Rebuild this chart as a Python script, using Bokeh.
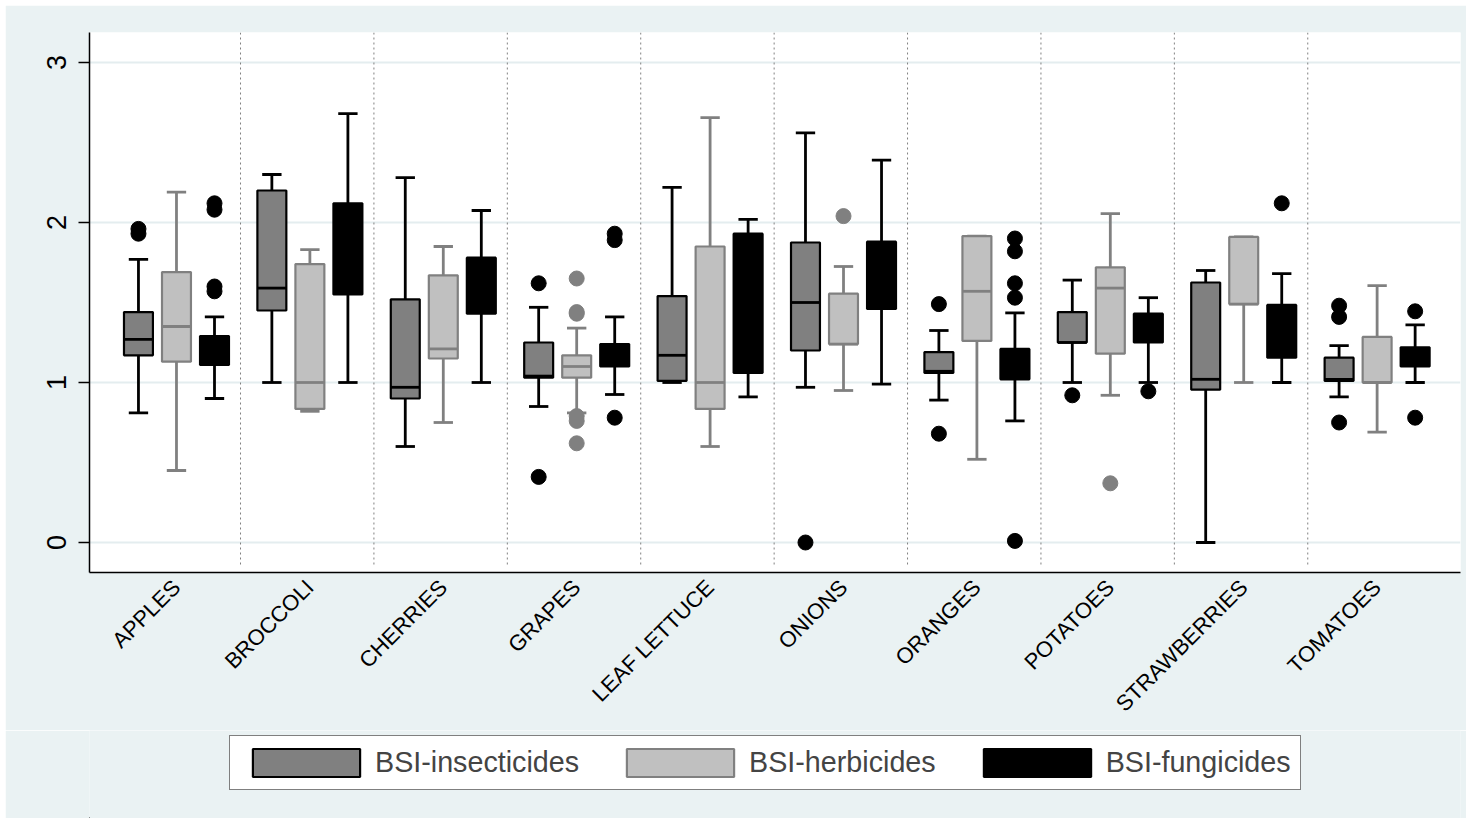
import math
from bokeh.plotting import figure
from bokeh.layouts import column
from bokeh.models import Range1d, FixedTicker, Legend, LegendItem
from bokeh.embed import file_html
from bokeh.resources import INLINE

# ---------------- data ----------------
categories = ["APPLES", "BROCCOLI", "CHERRIES", "GRAPES", "LEAF LETTUCE",
              "ONIONS", "ORANGES", "POTATOES", "STRAWBERRIES", "TOMATOES"]

ins_low  = [0.81, 1.00, 0.60, 0.85, 1.00, 0.97, 0.89, 1.00, 0.00, 0.91]
ins_q1   = [1.17, 1.45, 0.90, 1.03, 1.01, 1.20, 1.06, 1.25, 0.955, 1.01]
ins_med  = [1.27, 1.59, 0.97, 1.04, 1.17, 1.50, 1.07, 1.25, 1.02, 1.02]
ins_q3   = [1.44, 2.20, 1.52, 1.25, 1.54, 1.875, 1.19, 1.44, 1.625, 1.155]
ins_high = [1.77, 2.30, 2.28, 1.47, 2.22, 2.56, 1.325, 1.64, 1.70, 1.23]
ins_out  = [[1.96, 1.93], [], [], [1.62, 0.41], [], [0.0], [1.49, 0.68],
            [0.92], [], [1.48, 1.41, 0.75]]

herb_low  = [0.45, 0.82, 0.75, 0.81, 0.60, 0.95, 0.52, 0.92, 1.00, 0.69]
herb_q1   = [1.13, 0.835, 1.15, 1.03, 0.835, 1.24, 1.26, 1.18, 1.49, 1.00]
herb_med  = [1.35, 1.00, 1.21, 1.10, 1.00, 1.24, 1.57, 1.59, 1.49, 1.00]
herb_q3   = [1.69, 1.74, 1.67, 1.17, 1.85, 1.555, 1.915, 1.72, 1.91, 1.285]
herb_high = [2.19, 1.83, 1.85, 1.34, 2.655, 1.725, 1.915, 2.055, 1.91, 1.605]
herb_out  = [[], [], [], [1.65, 1.44, 1.43, 0.79, 0.76, 0.62], [], [2.04], [],
             [0.37], [], []]

fung_low  = [0.90, 1.00, 1.00, 0.925, 0.91, 0.99, 0.76, 1.00, 1.00, 1.00]
fung_q1   = [1.11, 1.55, 1.43, 1.10, 1.06, 1.46, 1.02, 1.25, 1.155, 1.10]
fung_med  = [1.20, 1.80, 1.60, 1.17, 1.50, 1.65, 1.10, 1.33, 1.30, 1.16]
fung_q3   = [1.29, 2.12, 1.78, 1.24, 1.93, 1.88, 1.21, 1.43, 1.485, 1.22]
fung_high = [1.41, 2.68, 2.075, 1.41, 2.02, 2.39, 1.435, 1.53, 1.68, 1.36]
fung_out  = [[2.12, 2.08, 1.60, 1.57], [], [], [1.93, 1.89, 0.78], [], [],
             [1.90, 1.82, 1.62, 1.53, 0.01], [0.945], [2.12], [1.445, 0.78]]

series_names = ["BSI-insecticides", "BSI-herbicides", "BSI-fungicides"]
y_ticks = [0, 1, 2, 3]

# ---------------- styles ----------------
BG = "#EAF2F3"
FONT = "Liberation Sans"
styles = [
    dict(fill="#808080", line="black", whisk="black", med="black", dot="black", off=-0.285),
    dict(fill="#C0C0C0", line="#808080", whisk="#808080", med="#808080", dot="#808080", off=0.0),
    dict(fill="black", line="black", whisk="black", med="black", dot="black", off=0.285),
]
BOX_W = 0.217
CAP_W = 0.145
W = 1461

y0, y1 = -0.1875, 3.1875
p = figure(width=W, height=725, output_backend="svg", toolbar_location=None,
           x_range=Range1d(0.348, 10.625), y_range=Range1d(y0, y1),
           min_border_left=84, min_border_right=6, min_border_top=27,
           min_border_bottom=158)
p.background_fill_color = "white"
p.border_fill_color = BG
p.outline_line_color = None

# grid
p.xgrid.grid_line_color = None
p.ygrid.grid_line_color = "#E4EDEF"
p.ygrid.grid_line_width = 2
p.ygrid.ticker = FixedTicker(ticks=y_ticks)

# category separators
n = len(categories)
sep_x = [i + 1.48 for i in range(n - 1)]
p.segment(x0=sep_x, x1=sep_x, y0=[y0 + 0.05] * len(sep_x), y1=[y1] * len(sep_x),
          line_color="#808080", line_width=1, line_dash="2 3")

data = [
    (ins_low, ins_q1, ins_med, ins_q3, ins_high, ins_out),
    (herb_low, herb_q1, herb_med, herb_q3, herb_high, herb_out),
    (fung_low, fung_q1, fung_med, fung_q3, fung_high, fung_out),
]

for (low, q1, med, q3, high, outs), st in zip(data, styles):
    xs = [i + 1 + st["off"] for i in range(n)]
    p.segment(x0=xs, x1=xs, y0=low, y1=high, line_color=st["whisk"], line_width=2.8)
    cx0 = [x - CAP_W / 2 for x in xs]
    cx1 = [x + CAP_W / 2 for x in xs]
    p.segment(x0=cx0, x1=cx1, y0=low, y1=low, line_color=st["whisk"], line_width=2.8)
    p.segment(x0=cx0, x1=cx1, y0=high, y1=high, line_color=st["whisk"], line_width=2.8)
    p.vbar(x=xs, width=BOX_W, bottom=q1, top=q3, fill_color=st["fill"],
           line_color=st["line"], line_width=2.2)
    mx0 = [x - BOX_W / 2 for x in xs]
    mx1 = [x + BOX_W / 2 for x in xs]
    p.segment(x0=mx0, x1=mx1, y0=med, y1=med, line_color=st["med"], line_width=2.8)
    ox, oy = [], []
    for x, vals in zip(xs, outs):
        for v in vals:
            ox.append(x)
            oy.append(v)
    p.scatter(x=ox, y=oy, size=15, fill_color=st["dot"], line_color=st["dot"])

# axes
xa = p.xaxis[0]
xa.ticker = FixedTicker(ticks=list(range(1, n + 1)))
xa.major_label_overrides = {i + 1: c for i, c in enumerate(categories)}
xa.major_label_orientation = math.pi / 4
xa.major_label_text_font = FONT
xa.major_label_text_font_size = "22px"
xa.major_label_text_color = "black"
xa.major_tick_line_color = None
xa.minor_tick_line_color = None
xa.axis_line_color = "black"
xa.axis_line_width = 1.5
xa.major_label_standoff = 5

ya = p.yaxis[0]
ya.ticker = FixedTicker(ticks=y_ticks)
ya.major_label_orientation = "vertical"
ya.major_label_text_font = FONT
ya.major_label_text_font_size = "27px"
ya.major_label_text_color = "black"
ya.major_tick_out = 11
ya.major_tick_in = 0
ya.major_tick_line_color = "black"
ya.major_tick_line_width = 1.5
ya.minor_tick_line_color = None
ya.axis_line_color = "black"
ya.axis_line_width = 1.5
ya.major_label_standoff = 13

# ---------------- legend strip ----------------
p2 = figure(width=W, height=88, output_backend="svg", toolbar_location=None,
            x_range=Range1d(0, 1), y_range=Range1d(0, 1),
            x_axis_location=None, y_axis_location=None, min_border=0)
p2.background_fill_color = BG
p2.border_fill_color = BG
p2.outline_line_color = None
p2.xgrid.grid_line_color = None
p2.ygrid.grid_line_color = None

# legend proxies: same box styles, placed outside the strip's visible range
items = []
for st, name in zip(styles, series_names):
    r = p2.vbar(x=[-10], width=0.1, bottom=[-10], top=[-9], fill_color=st["fill"],
                line_color=st["line"], line_width=2.2)
    items.append(LegendItem(label=name, renderers=[r]))

legend = Legend(items=items, orientation="horizontal", location=(140, 28),
                glyph_width=134, glyph_height=35, label_standoff=2, spacing=34,
                padding=9, margin=0,
                label_text_font=FONT, label_text_font_size="28.7px",
                border_line_color="black", border_line_width=1.5,
                background_fill_color="white", background_fill_alpha=1.0)
p2.add_layout(legend, "center")

layout = column(p, p2, spacing=0, margin=(5, 0, 0, 5))
open("out.html", "w").write(file_html(layout, INLINE))
